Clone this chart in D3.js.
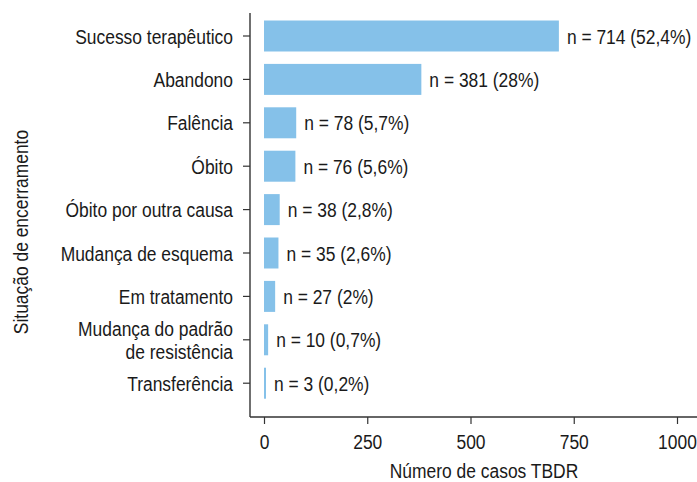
<!DOCTYPE html>
<html>
<head>
<meta charset="utf-8">
<script src="https://cdn.jsdelivr.net/npm/d3@7"></script>
<style>
  body { margin: 0; background: #fff; }
  text { font-family: "Liberation Sans", Arial, sans-serif; }
</style>
</head>
<body>
<svg id="chart" width="697" height="482"></svg>
<script>
// categories top to bottom
const categories = [
  "Sucesso terapêutico",
  "Abandono",
  "Falência",
  "Óbito",
  "Óbito por outra causa",
  "Mudança de esquema",
  "Em tratamento",
  "Mudança do padrão\nde resistência",
  "Transferência"
];
const counts = [714, 381, 78, 76, 38, 35, 27, 10, 3];
const percents = ["52,4%", "28%", "5,7%", "5,6%", "2,8%", "2,6%", "2%", "0,7%", "0,2%"];
const xTicks = [0, 250, 500, 750, 1000];

const data = categories.map((c, i) => ({ cat: c, n: counts[i], pct: percents[i] }));

const svg = d3.select("#chart");
const axisX = 250, axisY = 417;
const textColor = "#1a1a1a";
const lineColor = "#333";
const fs = 21;      // font size
const sx = 0.83;    // fake a narrow face by squeezing horizontally

// place a squeezed text at (px, py)
function narrow(sel, px, py) {
  return sel.attr("x", 0).attr("y", 0)
    .attr("transform", `translate(${px},${py}) scale(${sx},1)`)
    .attr("font-size", fs + "px")
    .attr("fill", textColor);
}

const x = d3.scaleLinear().domain([0, 1000]).range([264, 677]);
const y = d3.scaleBand()
  .domain(categories)
  .range([14.3, 404.9])
  .paddingInner(0.286)
  .paddingOuter(0.143);

// bars
svg.selectAll(".bar")
  .data(data)
  .enter().append("rect")
  .attr("class", "bar")
  .attr("x", x(0))
  .attr("y", d => y(d.cat))
  .attr("width", d => Math.max(x(d.n) - x(0), 2))
  .attr("height", y.bandwidth())
  .attr("fill", "#85c1e9");

// value labels
svg.selectAll(".lbl")
  .data(data)
  .enter().append("text")
  .attr("class", "lbl")
  .each(function(d) {
    narrow(d3.select(this), Math.max(x(d.n), x(0) + 2) + 8, y(d.cat) + y.bandwidth() / 2)
      .attr("dy", "0.36em")
      .text(`n = ${d.n} (${d.pct})`);
  });

// y axis
const yAxis = svg.append("g").attr("transform", `translate(${axisX},0)`)
  .call(d3.axisLeft(y).tickSize(7).tickFormat(""));
yAxis.select(".domain").remove();
yAxis.selectAll(".tick line").attr("stroke", lineColor).attr("stroke-width", 1.2);
yAxis.selectAll(".tick").each(function(d) {
  const lines = d.split("\n");
  const t = narrow(d3.select(this).append("text"), -17, 0)
    .attr("text-anchor", "end");
  lines.forEach((l, i) => {
    t.append("tspan")
      .attr("x", 0)
      .attr("dy", i === 0 ? `${0.36 - (lines.length - 1) * 0.55}em` : "1.1em")
      .text(l);
  });
});
svg.append("line")
  .attr("x1", axisX).attr("x2", axisX)
  .attr("y1", 13).attr("y2", axisY)
  .attr("stroke", lineColor).attr("stroke-width", 1.4);

// x axis
const xAxis = svg.append("g").attr("transform", `translate(0,${axisY})`)
  .call(d3.axisBottom(x).tickValues(xTicks).tickSize(7).tickFormat(""));
xAxis.select(".domain").remove();
xAxis.selectAll(".tick line").attr("stroke", lineColor).attr("stroke-width", 1.2);
xAxis.selectAll(".tick").each(function(d) {
  narrow(d3.select(this).append("text"), 0, 32)
    .attr("text-anchor", "middle")
    .text(d3.format("d")(d));
});
svg.append("line")
  .attr("x1", axisX).attr("x2", 697)
  .attr("y1", axisY).attr("y2", axisY)
  .attr("stroke", lineColor).attr("stroke-width", 1.4);

// axis titles
narrow(svg.append("text"), 484, 478)
  .attr("text-anchor", "middle")
  .text("Número de casos TBDR");

svg.append("text")
  .attr("transform", `translate(28,232) rotate(-90) scale(${sx},1)`)
  .attr("text-anchor", "middle")
  .attr("font-size", fs + "px")
  .attr("fill", textColor)
  .text("Situação de encerramento");
</script>
</body>
</html>
